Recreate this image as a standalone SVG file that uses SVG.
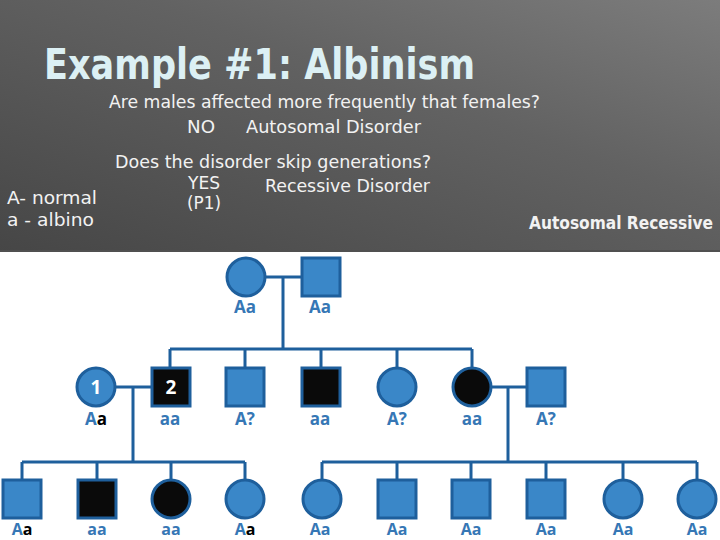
<svg xmlns="http://www.w3.org/2000/svg" width="720" height="540" viewBox="0 0 720 540">
<defs>
<linearGradient id="hdr" x1="0" y1="1" x2="1" y2="0">
<stop offset="0" stop-color="#464646"/>
<stop offset="0.6" stop-color="#626262"/>
<stop offset="1" stop-color="#7c7c7c"/>
</linearGradient>
<style>
.bg{fill:#ffffff}
.t{font-family:"DejaVu Sans Condensed","DejaVu Sans",sans-serif;fill:#f2f2f2}
.title{font-family:"DejaVu Sans Condensed","DejaVu Sans",sans-serif;font-weight:bold;fill:#dcf0f4;font-size:42px}
.q{font-size:17px}
.n{fill:#3a87c8;stroke:#1e5f9c;stroke-width:3}
.k{fill:#0a0a0a;stroke:#1e5f9c;stroke-width:3}
.ln{fill:none;stroke:#1e5f9c;stroke-width:3}
.g{font-family:"Open Sans","DejaVu Sans",sans-serif;font-weight:bold;font-size:17px;fill:#3677b5;text-anchor:middle}
.s{font-size:16px}
.b{fill:#000000}
.num{font-family:"Open Sans","DejaVu Sans",sans-serif;font-weight:bold;font-size:19px;fill:#ffffff;text-anchor:middle}
</style>
</defs>
<rect class="bg" x="0" y="0" width="720" height="540"/>
<rect x="0" y="0" width="720" height="252" fill="url(#hdr)"/>
<rect x="0" y="250" width="720" height="2" fill="#505050"/>

<g id="header">
<text class="title" x="44" y="79" textLength="431" lengthAdjust="spacingAndGlyphs">Example #1: Albinism</text>
<text class="t q" x="109" y="108" textLength="431" lengthAdjust="spacingAndGlyphs">Are males affected more frequently that females?</text>
<text class="t q" x="187" y="133" textLength="28" lengthAdjust="spacingAndGlyphs">NO</text>
<text class="t q" x="246" y="133" textLength="175" lengthAdjust="spacingAndGlyphs">Autosomal Disorder</text>
<text class="t q" x="115" y="168" textLength="316" lengthAdjust="spacingAndGlyphs">Does the disorder skip generations?</text>
<text class="t q" x="188" y="189" textLength="32" lengthAdjust="spacingAndGlyphs">YES</text>
<text class="t q" x="265" y="192" textLength="165" lengthAdjust="spacingAndGlyphs">Recessive Disorder</text>
<text class="t q" x="187" y="209" textLength="34" lengthAdjust="spacingAndGlyphs">(P1)</text>
<text class="t q" x="7" y="204" textLength="90" lengthAdjust="spacingAndGlyphs">A- normal</text>
<text class="t q" x="7" y="226" textLength="87" lengthAdjust="spacingAndGlyphs">a - albino</text>
<text class="t" x="529" y="229" font-size="17" font-weight="bold" fill="#ffffff" textLength="184" lengthAdjust="spacingAndGlyphs">Autosomal Recessive</text>
</g>

<g id="connectors">
<path class="ln" d="M265 277 H302 M283 277 V349 M170 349 H472 M170 349 V368 M245 349 V368 M321 349 V368 M397 349 V368 M472 349 V368"/>
<path class="ln" d="M115 387 H152 M133 387 V462 M22 462 H245 M22 462 V480 M97 462 V480 M171 462 V480 M245 462 V480"/>
<path class="ln" d="M491 387 H527 M508 387 V462 M322 462 H697 M322 462 V480 M397 462 V480 M471 462 V480 M546 462 V480 M623 462 V480 M697 462 V480"/>
</g>

<g id="g1-mother"><circle class="n" cx="246" cy="277" r="19"/><text class="g" x="245" y="313">Aa</text></g>
<g id="g1-father"><rect class="n" x="302" y="258" width="38" height="38"/><text class="g" x="320" y="313">Aa</text></g>

<g id="g2-1"><circle class="n" cx="96" cy="387" r="19"/><text class="num" x="96" y="394">1</text><text class="g" x="96" y="425">A<tspan class="b">a</tspan></text></g>
<g id="g2-2"><rect class="k" x="152" y="368" width="38" height="38"/><text class="num" x="171" y="394">2</text><text class="g" x="170" y="425">aa</text></g>
<g id="g2-3"><rect class="n" x="226" y="368" width="38" height="38"/><text class="g" x="245" y="425">A?</text></g>
<g id="g2-4"><rect class="k" x="302" y="368" width="38" height="38"/><text class="g" x="320" y="425">aa</text></g>
<g id="g2-5"><circle class="n" cx="397" cy="387" r="19"/><text class="g" x="397" y="425">A?</text></g>
<g id="g2-6"><circle class="k" cx="472" cy="387" r="19"/><text class="g" x="472" y="425">aa</text></g>
<g id="g2-7"><rect class="n" x="527" y="368" width="38" height="38"/><text class="g" x="546" y="425">A?</text></g>

<g id="g3-1"><rect class="n" x="3" y="480" width="38" height="38"/><text class="g s" x="22" y="535">A<tspan class="b">a</tspan></text></g>
<g id="g3-2"><rect class="k" x="78" y="480" width="38" height="38"/><text class="g s" x="97" y="535">aa</text></g>
<g id="g3-3"><circle class="k" cx="171" cy="499" r="19"/><text class="g s" x="171" y="535">aa</text></g>
<g id="g3-4"><circle class="n" cx="245" cy="499" r="19"/><text class="g s" x="245" y="535">A<tspan class="b">a</tspan></text></g>
<g id="g3-5"><circle class="n" cx="322" cy="499" r="19"/><text class="g s" x="320" y="535">Aa</text></g>
<g id="g3-6"><rect class="n" x="378" y="480" width="38" height="38"/><text class="g s" x="397" y="535">Aa</text></g>
<g id="g3-7"><rect class="n" x="452" y="480" width="38" height="38"/><text class="g s" x="471" y="535">Aa</text></g>
<g id="g3-8"><rect class="n" x="527" y="480" width="38" height="38"/><text class="g s" x="546" y="535">Aa</text></g>
<g id="g3-9"><circle class="n" cx="623" cy="499" r="19"/><text class="g s" x="623" y="535">Aa</text></g>
<g id="g3-10"><circle class="n" cx="697" cy="499" r="19"/><text class="g s" x="697" y="535">Aa</text></g>
</svg>
